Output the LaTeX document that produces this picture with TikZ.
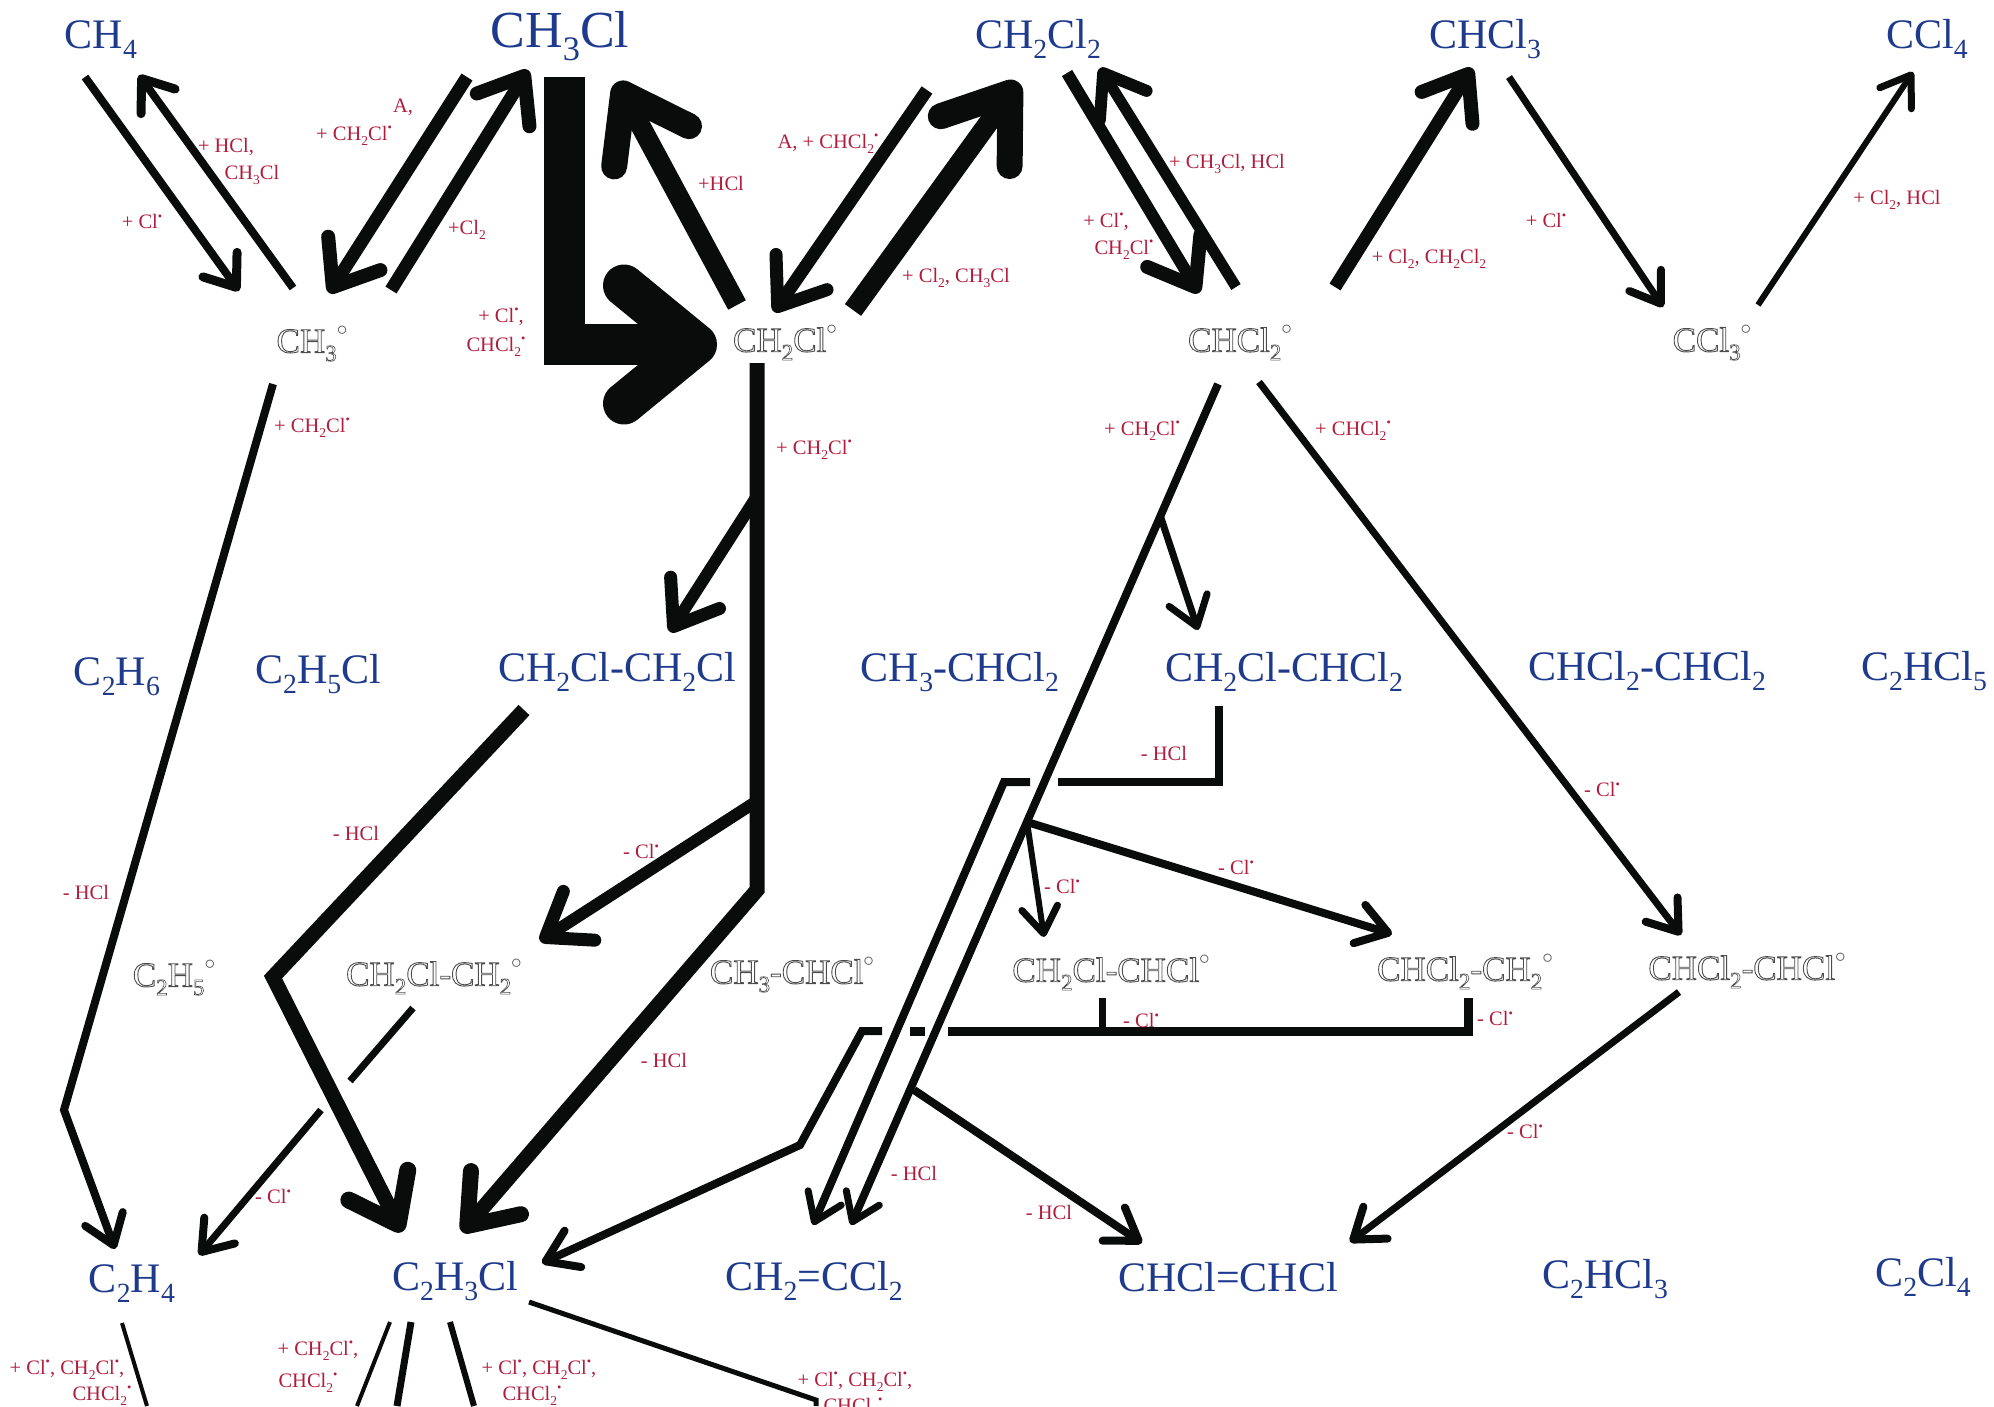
\documentclass[tikz,border=0pt]{standalone}
\usepackage{fontspec}
\setmainfont{Liberation Serif}
\usetikzlibrary{arrows.meta}
\definecolor{chemblue}{HTML}{1E3A8C}
\definecolor{redlab}{HTML}{B01C3C}
\definecolor{arrowk}{HTML}{0A0C0C}
\newcommand{\sbb}[1]{\raisebox{-0.24em}{\scalebox{0.66}{#1}}}
\newcommand{\rdot}{\raisebox{0.40em}{\scalebox{0.6}{•}}}
\newcommand{\olon}{\special{pdf:code 1 Tr 0.9 w 0.3 G}}
\newcommand{\olsb}[1]{\raisebox{-0.24em}{\scalebox{0.66}{\olon #1}}\olon}
\newcommand{\dg}{\raisebox{0.5em}{\scalebox{0.85}{\special{pdf:code 0 Tr}$\circ$}}}
\newcommand{\olt}[1]{\olon #1\special{pdf:code 0 Tr}}
\tikzset{
  mol/.style={text=chemblue,font=\fontsize{42}{46}\selectfont,inner sep=0pt,yshift=-3pt},
  molbig/.style={text=chemblue,font=\fontsize{52}{56}\selectfont,inner sep=0pt,yshift=-3pt},
  rad/.style={text=black!70,font=\fontsize{35}{38}\selectfont,inner sep=0pt,yshift=-2.5pt},
  lab/.style={text=redlab,font=\fontsize{20.5}{23}\selectfont,inner sep=0pt,yshift=-1.5pt},
  arr/.style n args={4}{draw=arrowk,line width=#1,line join=miter,-{Straight Barb[length=#2,width=#3,line width=#4,round]}},
  ln/.style={draw=arrowk,line width=#1,line join=miter}
}
\begin{document}
\begin{tikzpicture}[x=1pt,y=-1pt]
\useasboundingbox (0,0) rectangle (1994,1406);
\clip (0,0) rectangle (1994,1406);
% molecules
\node[mol] (ch4) at (101,37) {CH\sbb{4}};
\node[molbig] (ch3cl) at (560,33) {CH\sbb{3}Cl};
\node[mol] (ch2cl2) at (1038,36) {CH\sbb{2}Cl\sbb{2}};
\node[mol] (chcl3) at (1485,36) {CHCl\sbb{3}};
\node[mol] (ccl4) at (1927,36) {CCl\sbb{4}};
\node[mol] (c2h6) at (117,674) {C\sbb{2}H\sbb{6}};
\node[mol] (c2h5cl) at (318,671) {C\sbb{2}H\sbb{5}Cl};
\node[mol] (dce) at (617,669) {CH\sbb{2}Cl-CH\sbb{2}Cl};
\node[mol] (ch3chcl2) at (960,669) {CH\sbb{3}-CHCl\sbb{2}};
\node[mol] (tce) at (1284,669) {CH\sbb{2}Cl-CHCl\sbb{2}};
\node[mol] (tetra) at (1647,668) {CHCl\sbb{2}-CHCl\sbb{2}};
\node[mol] (c2hcl5) at (1924,668) {C\sbb{2}HCl\sbb{5}};
\node[mol] (c2h4) at (132,1281) {C\sbb{2}H\sbb{4}};
\node[mol] (vc) at (455,1278) {C\sbb{2}H\sbb{3}Cl};
\node[mol] (vdc) at (814,1278) {CH\sbb{2}=CCl\sbb{2}};
\node[mol] (dcev) at (1228,1274) {CHCl=CHCl};
\node[mol] (tcev) at (1605,1276) {C\sbb{2}HCl\sbb{3}};
\node[mol] (pce) at (1923,1274) {C\sbb{2}Cl\sbb{4}};
% radicals
\node[rad] (rch3) at (312,341) {\olt{CH\olsb{3}\dg}};
\node[rad] (rch2cl) at (785,340) {\olt{CH\olsb{2}Cl\dg}};
\node[rad] (rchcl2) at (1240,340) {\olt{CHCl\olsb{2}\dg}};
\node[rad] (rccl3) at (1712,340) {\olt{CCl\olsb{3}\dg}};
\node[rad] (rc2h5) at (174,975) {\olt{C\olsb{2}H\olsb{5}\dg}};
\node[rad] (ra) at (434,974) {\olt{CH\olsb{2}Cl-CH\olsb{2}\dg}};
\node[rad] (rb) at (792,972) {\olt{CH\olsb{3}-CHCl\dg}};
\node[rad] (rc) at (1111,970) {\olt{CH\olsb{2}Cl-CHCl\dg}};
\node[rad] (rd) at (1465,969) {\olt{CHCl\olsb{2}-CH\olsb{2}\dg}};
\node[rad] (re) at (1747,968) {\olt{CHCl\olsb{2}-CHCl\dg}};
% connector end points
\coordinate (a1s) at (85,77); \coordinate (a1e) at (239,291);
\coordinate (a2s) at (293,288); \coordinate (a2e) at (139,75);
\coordinate (a3s) at (467,77); \coordinate (a3e) at (329,293);
\coordinate (a4s) at (391,290); \coordinate (a4e) at (528,70);
\coordinate (a5s) at (564.5,77); \coordinate (a5b) at (564.5,344.5); \coordinate (a5e) at (717,344.5);
\coordinate (a6s) at (737,305); \coordinate (a6e) at (617,82);
\coordinate (a7s) at (927,90); \coordinate (a7e) at (774,312);
\coordinate (a8s) at (853,310); \coordinate (a8e) at (1018,82);
\coordinate (a9s) at (1067,73); \coordinate (a9e) at (1199,293);
\coordinate (a10s) at (1236,287); \coordinate (a10e) at (1100,68);
\coordinate (a11s) at (1335,287); \coordinate (a11e) at (1472,68);
\coordinate (a12s) at (1509,77); \coordinate (a12e) at (1663,307);
\coordinate (a13s) at (1758,305); \coordinate (a13e) at (1913,72);
\coordinate (b1s) at (273,384); \coordinate (b1b) at (64,1110); \coordinate (b1e) at (115,1249);
\coordinate (b2s) at (757,363); \coordinate (b2b) at (757,890); \coordinate (b2e) at (462,1232);
\coordinate (b3s) at (757,496); \coordinate (b3e) at (670,632);
\coordinate (b4s) at (757,801); \coordinate (b4e) at (540,941);
\coordinate (b5s) at (524,710); \coordinate (b5b) at (273,977); \coordinate (b5e) at (402,1232);
\coordinate (b6s) at (413,1008); \coordinate (b6m) at (350,1081); \coordinate (b6n) at (321,1110); \coordinate (b6e) at (199,1255);
\coordinate (c1s) at (1218,384); \coordinate (c1e) at (851,1225);
\coordinate (c2s) at (1160,515); \coordinate (c2e) at (1198,630);
\coordinate (c3s) at (1027,822); \coordinate (c3e) at (1392,934);
\coordinate (c4e) at (1044,937);
\coordinate (c5s) at (914,1090); \coordinate (c5e) at (1142,1243);
\coordinate (d1s) at (1219,706); \coordinate (d1b) at (1219,782); \coordinate (d1m) at (1058,782); \coordinate (d1n) at (1030,782); \coordinate (d1c) at (1004,782); \coordinate (d1e) at (813,1225);
\coordinate (d2r) at (1468,1031); \coordinate (d2t) at (1468,998); \coordinate (d2m) at (948,1031); \coordinate (d2p) at (925,1031); \coordinate (d2q) at (910,1031); \coordinate (d2n) at (882,1031); \coordinate (d2c) at (862,1031); \coordinate (d2k) at (800,1145); \coordinate (d2e) at (542,1263);
\coordinate (d3t) at (1102,998); \coordinate (d3b) at (1102,1031);
\coordinate (e1s) at (1259,382); \coordinate (e1e) at (1681,935);
\coordinate (e2s) at (1679,992); \coordinate (e2e) at (1350,1242);
\coordinate (f1s) at (122,1323); \coordinate (f1e) at (147,1406);
\coordinate (f2s) at (390,1322); \coordinate (f2e) at (357,1406);
\coordinate (f3s) at (411,1322); \coordinate (f3e) at (397,1406);
\coordinate (f4s) at (450,1322); \coordinate (f4e) at (474,1406);
\coordinate (f5s) at (529,1302); \coordinate (f5b) at (816,1400); \coordinate (f5e) at (816,1406);
% connectors
\draw[arr={8pt}{28pt}{42pt}{9pt}] (a1s) -- (a1e);
\draw[arr={8pt}{28pt}{42pt}{9pt}] (a2s) -- (a2e);
\draw[arr={13pt}{40pt}{62pt}{14pt}] (a3s) -- (a3e);
\draw[arr={13pt}{40pt}{62pt}{14pt}] (a4s) -- (a4e);
\draw[arr={41pt}{72pt}{118pt}{42pt}] (a5s) -- (a5b) -- (a5e);
\draw[arr={20pt}{60pt}{85pt}{26pt}] (a6s) -- (a6e);
\draw[arr={13pt}{42pt}{62pt}{13pt}] (a7s) -- (a7e);
\draw[arr={20pt}{60pt}{85pt}{26pt}] (a8s) -- (a8e);
\draw[arr={12pt}{42pt}{62pt}{14pt}] (a9s) -- (a9e);
\draw[arr={11pt}{38pt}{55pt}{12pt}] (a10s) -- (a10e);
\draw[arr={13pt}{40pt}{60pt}{14pt}] (a11s) -- (a11e);
\draw[arr={7pt}{28pt}{38pt}{8pt}] (a12s) -- (a12e);
\draw[arr={6pt}{28pt}{38pt}{7pt}] (a13s) -- (a13e);
\draw[arr={8pt}{28pt}{40pt}{8pt}] (b1s) -- (b1b) -- (b1e);
\draw[arr={15pt}{44pt}{66pt}{16pt}] (b2s) -- (b2b) -- (b2e);
\draw[arr={12pt}{40pt}{58pt}{13pt}] (b3s) -- (b3e);
\draw[arr={12pt}{40pt}{58pt}{13pt}] (b4s) -- (b4e);
\draw[arr={15pt}{44pt}{66pt}{17pt}] (b5s) -- (b5b) -- (b5e);
\draw[ln=7pt] (b6s) -- (b6m);
\draw[arr={7pt}{28pt}{40pt}{8pt}] (b6n) -- (b6e);
\draw[arr={8pt}{26pt}{36pt}{7pt}] (c1s) -- (c1e);
\draw[arr={7pt}{28pt}{40pt}{7pt}] (c2s) -- (c2e);
\draw[arr={8pt}{30pt}{40pt}{8pt}] (c3s) -- (c3e);
\draw[arr={6pt}{26pt}{36pt}{7pt}] (c3s) -- (c4e);
\draw[arr={8pt}{30pt}{40pt}{8pt}] (c5s) -- (c5e);
\draw[ln=8pt] (d1s) -- (d1b) -- (d1m);
\draw[arr={8pt}{26pt}{36pt}{7pt}] (d1n) -- (d1c) -- (d1e);
\draw[ln=9pt] (d2t) -- (d2r) -- (d2m);
\draw[ln=9pt] (d2p) -- (d2q);
\draw[arr={8pt}{30pt}{40pt}{8pt}] (d2n) -- (d2c) -- (d2k) -- (d2e);
\draw[ln=7pt] (d3t) -- (d3b);
\draw[arr={7pt}{28pt}{40pt}{8pt}] (e1s) -- (e1e);
\draw[arr={7pt}{28pt}{40pt}{8pt}] (e2s) -- (e2e);
\draw[ln=4pt] (f1s) -- (f1e);
\draw[ln=4pt] (f2s) -- (f2e);
\draw[ln=7pt] (f3s) -- (f3e);
\draw[ln=6pt] (f4s) -- (f4e);
\draw[ln=5pt] (f5s) -- (f5b) -- (f5e);
% labels
\node[lab] (l1) at (403,106) {A,};
\node[lab] (l2) at (354,134) {+ CH\sbb{2}Cl\rdot};
\node[lab] (l3) at (226,145) {+ HCl,};
\node[lab] (l4) at (252,173) {CH\sbb{3}Cl};
\node[lab] (l5) at (142,220) {+ Cl\rdot};
\node[lab] (l6) at (467,228) {+Cl\sbb{2}};
\node[lab] (l7) at (721,182) {+HCl};
\node[lab] (l8) at (828,142) {A, + CHCl\sbb{2}\rdot};
\node[lab] (l9) at (1227,162) {+ CH\sbb{3}Cl, HCl};
\node[lab] (l10) at (1106,220) {+ Cl\rdot,};
\node[lab] (l11) at (1124,248) {CH\sbb{2}Cl\rdot};
\node[lab] (l12) at (956,276) {+ Cl\sbb{2}, CH\sbb{3}Cl};
\node[lab] (l13) at (1429,257) {+ Cl\sbb{2}, CH\sbb{2}Cl\sbb{2}};
\node[lab] (l14) at (1546,219) {+ Cl\rdot};
\node[lab] (l15) at (1897,198) {+ Cl\sbb{2}, HCl};
\node[lab] (l16) at (501,315) {+ Cl\rdot,};
\node[lab] (l17) at (496,345) {CHCl\sbb{2}\rdot};
\node[lab] (l18) at (312,426) {+ CH\sbb{2}Cl\rdot};
\node[lab] (l19) at (814,448) {+ CH\sbb{2}Cl\rdot};
\node[lab] (l20) at (1142,429) {+ CH\sbb{2}Cl\rdot};
\node[lab] (l21) at (1353,429) {+ CHCl\sbb{2}\rdot};
\node[lab] (l22) at (1164,752) {- HCl};
\node[lab] (l23) at (1602,788) {- Cl\rdot};
\node[lab] (l24) at (356,832) {- HCl};
\node[lab] (l25) at (641,850) {- Cl\rdot};
\node[lab] (l26) at (86,891) {- HCl};
\node[lab] (l27) at (1236,866) {- Cl\rdot};
\node[lab] (l28) at (1062,885) {- Cl\rdot};
\node[lab] (l29) at (1141,1019) {- Cl\rdot};
\node[lab] (l30) at (1495,1017) {- Cl\rdot};
\node[lab] (l31) at (664,1059) {- HCl};
\node[lab] (l32) at (1525,1130) {- Cl\rdot};
\node[lab] (l33) at (273,1195) {- Cl\rdot};
\node[lab] (l34) at (914,1172) {- HCl};
\node[lab] (l35) at (1049,1211) {- HCl};
\node[lab] (l36) at (67,1368) {+ Cl\rdot, CH\sbb{2}Cl\rdot,};
\node[lab] (l37) at (102,1394) {CHCl\sbb{2}\rdot};
\node[lab] (l38) at (318,1349) {+ CH\sbb{2}Cl\rdot,};
\node[lab] (l39) at (308,1381) {CHCl\sbb{2}\rdot};
\node[lab] (l40) at (539,1368) {+ Cl\rdot, CH\sbb{2}Cl\rdot,};
\node[lab] (l41) at (532,1394) {CHCl\sbb{2}\rdot};
\node[lab] (l42) at (855,1380) {+ Cl\rdot, CH\sbb{2}Cl\rdot,};
\node[lab] (l43) at (853,1406) {CHCl\sbb{2}\rdot};
\end{tikzpicture}
\end{document}
